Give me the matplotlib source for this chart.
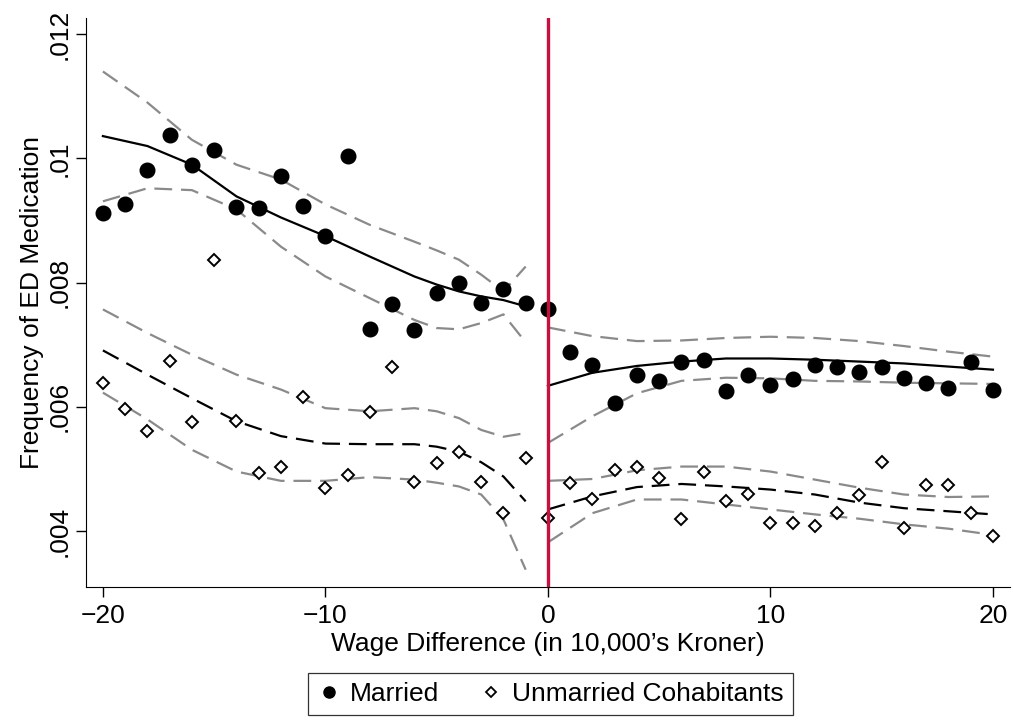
import numpy as np
import matplotlib
matplotlib.use("Agg")
import matplotlib.pyplot as plt
from matplotlib.lines import Line2D

plt.rcParams['font.family'] = ['Liberation Sans', 'DejaVu Sans']

# binned means, x = -20 .. 20
wage_diff = list(range(-20, 21))
married = [.00912, .00926, .00981, .01037, .00990, .01013, .00922, .00921, .00972, .00924,
           .00875, .01004, .00725, .00766, .00724, .00784, .00800, .00768, .00790, .00768,
           .00757,
           .00688, .00668, .00607, .00652, .00641, .00673, .00676, .00625, .00651, .00636,
           .00645, .00667, .00664, .00656, .00664, .00647, .00638, .00630, .00673, .00627]
unmarried = [.00639, .00596, .00562, .00674, .00576, .00836, .00578, .00493, .00503, .00616,
             .00470, .00490, .00592, .00664, .00479, .00509, .00528, .00479, .00429, .00517,
             .00421,
             .00478, .00451, .00499, .00503, .00486, .00420, .00495, .00448, .00460, .00413,
             .00413, .00409, .00429, .00458, .00511, .00405, .00474, .00475, .00429, .00393]

# fitted curves and CIs, left of cutoff
xl = [-20, -18, -16, -14, -12, -10, -8, -6, -5, -4, -3, -2, -1]
mar_fit_l = [.01036, .01020, .00990, .00939, .00905, .00875, .00842, .00810, .00797, .00786, .00778, .00772, .00762]
mar_hi_l = [.01140, .01090, .01030, .00990, .00966, .00926, .00893, .00866, .00852, .00837, .00813, .00786, .00826]
mar_lo_l = [.00931, .00952, .00949, .00918, .00858, .00810, .00775, .00740, .00727, .00725, .00735, .00749, .00704]
unm_fit_l = [.00691, .00652, .00614, .00577, .00553, .00541, .00540, .00540, .00536, .00528, .00511, .00488, .00448]
unm_hi_l = [.00757, .00719, .00684, .00652, .00628, .00598, .00593, .00598, .00593, .00582, .00563, .00552, .00558]
unm_lo_l = [.00623, .00580, .00531, .00496, .00481, .00481, .00487, .00483, .00478, .00472, .00459, .00419, .00338]

# right of cutoff
xr = [0, 2, 4, 6, 8, 10, 12, 14, 16, 18, 20]
mar_fit_r = [.00634, .00655, .00666, .00673, .00678, .00678, .00676, .00673, .00670, .00665, .00660]
mar_hi_r = [.00728, .00714, .00706, .00707, .00711, .00713, .00711, .00706, .00698, .00689, .00681]
mar_lo_r = [.00542, .00585, .00622, .00642, .00647, .00646, .00642, .00641, .00639, .00638, .00637]
unm_fit_r = [.00435, .00456, .00471, .00476, .00472, .00467, .00459, .00446, .00437, .00432, .00427]
unm_hi_r = [.00481, .00484, .00498, .00504, .00504, .00496, .00483, .00470, .00459, .00455, .00456]
unm_lo_r = [.00382, .00429, .00451, .00451, .00443, .00435, .00427, .00420, .00411, .00404, .00394]

fig = plt.figure(figsize=(10.13, 7.23), dpi=100)
ax = fig.add_axes([0.0849, 0.188, 0.912, 0.787])

gray = '#8a8a8a'
dash = (8, 4)
for xs, lo, hi in [(xl, mar_lo_l, mar_hi_l), (xr, mar_lo_r, mar_hi_r),
                   (xl, unm_lo_l, unm_hi_l), (xr, unm_lo_r, unm_hi_r)]:
    ax.plot(xs, lo, color=gray, lw=1.6, dashes=dash)
    ax.plot(xs, hi, color=gray, lw=1.6, dashes=dash)

ax.plot(xl, mar_fit_l, color='black', lw=1.6)
ax.plot(xr, mar_fit_r, color='black', lw=1.6)
ax.plot(xl, unm_fit_l, color='black', lw=1.6, dashes=dash)
ax.plot(xr, unm_fit_r, color='black', lw=1.6, dashes=dash)

ax.plot(wage_diff, married, 'o', color='black', ms=10.5, zorder=4)
ax.plot(wage_diff, unmarried, 'D', mfc='white', mec='black', mew=1.4, ms=6.5, zorder=4)

ax.axvline(0, color='#c8103e', lw=2.4, zorder=5)

ax.set_xlim(-20.76, 20.76)
ax.set_ylim(0.0031, 0.01226)
ax.set_xticks([-20, -10, 0, 10, 20])
ax.set_yticks([.004, .006, .008, .01, .012])
ax.set_yticklabels(['.004', '.006', '.008', '.01', '.012'], rotation=90, va='center')
ax.tick_params(direction='out', length=7, width=1, labelsize=19, pad=3)
ax.tick_params(axis='x', pad=5)
for s in ['top', 'right']:
    ax.spines[s].set_visible(False)
ax.set_xlabel("Wage Difference (in 10,000\u2019s Kroner)", fontsize=19, labelpad=3)
ax.set_ylabel("Frequency of ED Medication", fontsize=19, labelpad=3)

handles = [Line2D([], [], ls='none', marker='o', color='black', ms=8),
           Line2D([], [], ls='none', marker='D', mfc='white', mec='black', mew=1.3, ms=5)]
leg = fig.legend(handles, ['Married', 'Unmarried Cohabitants'], loc='lower center',
                 bbox_to_anchor=(0.543, 0.0), ncol=2, fontsize=19, frameon=True,
                 fancybox=False, edgecolor='black', handletextpad=0.35, columnspacing=1.5,
                 handlelength=0.9, borderpad=0.35, borderaxespad=0.3)
leg.get_frame().set_linewidth(0.9)

fig.savefig('out.png', dpi=100)
